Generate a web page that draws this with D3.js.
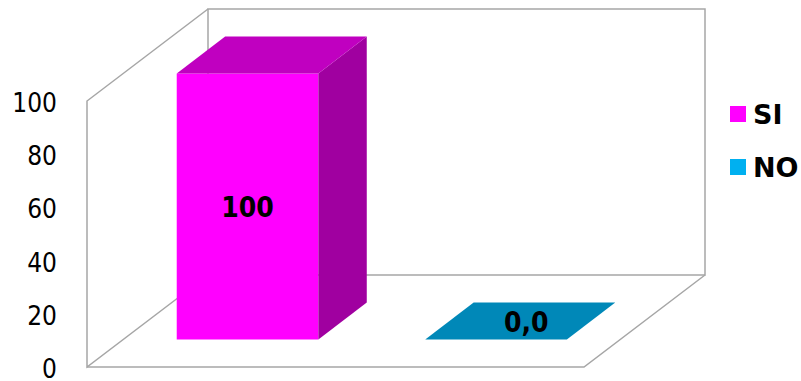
<!DOCTYPE html>
<html>
<head>
<meta charset="utf-8">
<script src="https://cdn.jsdelivr.net/npm/d3@7"></script>
<style>
  html, body { margin: 0; padding: 0; background: #fff; }
  svg { display: block; }
  text { font-family: "DejaVu Sans Condensed", "DejaVu Sans", sans-serif; font-stretch: condensed; }
  text.leg { font-family: "DejaVu Sans", sans-serif; font-stretch: normal; }
</style>
</head>
<body>
<svg id="chart" width="801" height="381"></svg>
<script>
// ---- data ----
const categories = ["SI", "NO"];
const values = [100, 0];
const valueLabels = ["100", "0,0"];
const yTicks = [0, 20, 40, 60, 80, 100];

const frontColors = {SI: "#FF00FF", NO: "#00B0F0"};
const topColors = {SI: "#C000C0", NO: "#0088B8"};
const sideColors = {SI: "#A000A0", NO: "#0070A0"};

const svg = d3.select("#chart");

// front plane geometry
const x0 = 87, x1 = 584, yBase = 367, yTop = 101;
const depthX = 121, depthY = -92;
const x = d3.scaleBand().domain(categories).range([x0, x1]).paddingInner(0.43).paddingOuter(0.215);
const y = d3.scaleLinear().domain([0, 100]).range([yBase, yTop]);
const P = (px, py, d) => [px + depthX * d, py + depthY * d];

const gridColor = "#A6A6A6";
const walls = svg.append("g").attr("fill", "none").attr("stroke", gridColor).attr("stroke-width", 1.5);
const line = d3.line();
// back wall
walls.append("path").attr("d", line([P(x0, y(0), 1), P(x0, y(100), 1), P(x1, y(100), 1), P(x1, y(0), 1)]) + "Z");
// left wall
walls.append("path").attr("d", line([P(x0, y(0), 1), P(x0, y(0), 0), P(x0, y(100), 0), P(x0, y(100), 1)]));
// floor
walls.append("path").attr("d", line([P(x0, y(0), 0), P(x1, y(0), 0), P(x1, y(0), 1)]));

// bars
const dFront = 0.3, dBack = 0.7;
const bars = svg.append("g");
categories.forEach((c, i) => {
  const v = values[i];
  const bl = x(c), br = x(c) + x.bandwidth();
  const yb = y(0), yt = y(v);
  const g = bars.append("g");
  if (v > 0) {
    g.append("path").attr("fill", frontColors[c])
      .attr("d", line([P(bl, yb, dFront), P(br, yb, dFront), P(br, yt, dFront), P(bl, yt, dFront)]) + "Z");
    g.append("path").attr("fill", sideColors[c])
      .attr("d", line([P(br, yb, dFront), P(br, yb, dBack), P(br, yt, dBack), P(br, yt, dFront)]) + "Z");
  }
  g.append("path").attr("fill", topColors[c])
    .attr("d", line([P(bl, yt, dFront), P(br, yt, dFront), P(br, yt, dBack), P(bl, yt, dBack)]) + "Z");
  // labels
  let lx, ly;
  if (v > 0) {
    [lx, ly] = P((bl + br) / 2, (yb + yt) / 2, dFront);
  } else {
    [lx, ly] = P((bl + br) / 2 + 6, yt, (dFront + dBack) / 2);
  }
  g.append("text").attr("x", lx).attr("y", ly + 1)
    .attr("text-anchor", "middle").attr("dominant-baseline", "central")
    .attr("font-weight", "bold").attr("font-size", 28).attr("fill", "#000")
    .text(valueLabels[i]);
});

// y axis labels
svg.append("g").selectAll("text").data(yTicks).join("text")
  .attr("x", 57).attr("y", d => y(d) + 2)
  .attr("text-anchor", "end").attr("dominant-baseline", "central")
  .attr("font-size", 26).attr("fill", "#000")
  .text(d => d);

// legend
const legend = svg.append("g");
categories.forEach((c, i) => {
  const ly = 106 + i * 53;
  legend.append("rect").attr("x", 730).attr("y", ly).attr("width", 16).attr("height", 16).attr("fill", frontColors[c]);
  legend.append("text").attr("class", "leg").attr("x", 753).attr("y", ly + 8)
    .attr("dominant-baseline", "central").attr("font-weight", "bold").attr("font-size", 27)
    .attr("fill", "#000").text(c);
});
</script>
</body>
</html>
